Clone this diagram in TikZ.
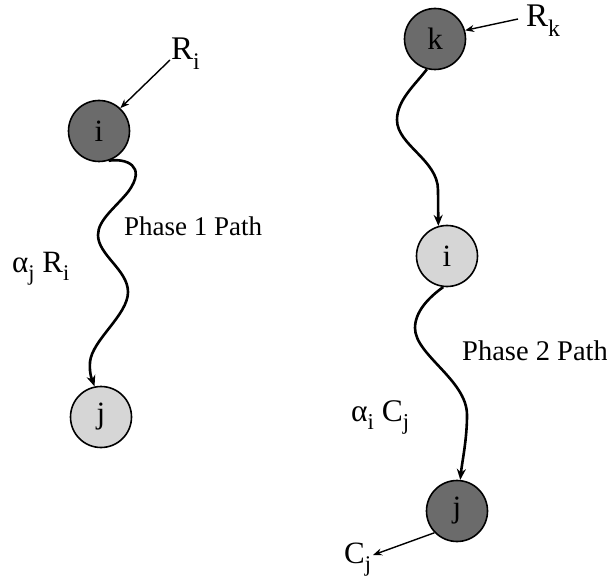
\documentclass[tikz,border=0pt]{standalone}
\usepackage{fontspec}
\setmainfont{Liberation Serif}
\usetikzlibrary{arrows.meta}
\definecolor{darknode}{gray}{0.42}
\definecolor{lightnode}{gray}{0.84}
\newcommand{\lowsub}[1]{\raisebox{-0.28em}{\fontsize{0.72em}{0.75em}\selectfont #1}}
\tikzset{
  darkcirc/.style={circle, draw=black, line width=1.6pt, fill=darknode, minimum size=61pt, inner sep=0pt, font=\fontsize{31}{33}\selectfont},
  lightcirc/.style={circle, draw=black, line width=1.6pt, fill=lightnode, minimum size=61pt, inner sep=0pt, font=\fontsize{31}{33}\selectfont},
  wavy/.style={line width=2.6pt, -{Stealth[length=11pt,width=9pt]}},
  feed/.style={line width=1.4pt, -{Stealth[length=9pt,width=7pt]}},
  lab/.style={anchor=base west, inner sep=0pt},
}
\begin{document}
\begin{tikzpicture}[x=1pt,y=-1pt]
\useasboundingbox (0,0) rectangle (607,577);
% nodes
\node[darkcirc]  (li) at (99,131) {i};
\node[lightcirc] (lj) at (101,417) {j};
\node[darkcirc]  (rk) at (435,39) {k};
\node[lightcirc] (ri) at (447,256) {i};
\node[darkcirc]  (rj) at (457,511) {j};
% labels
\node[lab, font=\fontsize{33}{36}\selectfont] (Ri) at (171,60) {R\lowsub{i}};
\node[lab, font=\fontsize{33}{36}\selectfont] (Rk) at (526,27) {R\lowsub{k}};
\node[lab, font=\fontsize{27}{30}\selectfont] (p1) at (124,236) {Phase 1 Path};
\node[lab, font=\fontsize{31}{34}\selectfont] (aR) at (12,272) {α\lowsub{j} R\lowsub{i}};
\node[lab, font=\fontsize{28.5}{31}\selectfont] (p2) at (462,360) {Phase 2 Path};
\node[lab, font=\fontsize{31.5}{34}\selectfont] (aC) at (351,421) {α\lowsub{i} C\lowsub{j}};
\node[lab, font=\fontsize{31}{34}\selectfont] (Cj) at (344,563) {C\lowsub{j}};
% free ends
\coordinate (riS) at (170,60);
\coordinate (rkS) at (518,19);
\coordinate (cjE) at (373,555);
% feed arrows
\draw[feed] (riS) -- (li.47);
\draw[feed] (rkS) -- (rk.16);
\draw[feed] (rj.224) -- (cjE);
% phase 1 path
\draw[wavy] (li.-72) .. controls (125,158) and (148,165) .. (128,192)
  .. controls (115,208) and (98,220) .. (98,235)
  .. controls (98,255) and (128,270) .. (128,292)
  .. controls (128,315) and (92,340) .. (90,362)
  .. controls (89,375) and (93,382) .. (lj.102);
% phase 2 paths
\draw[wavy] (rk.-105) .. controls (415,85) and (397,100) .. (397,120)
  .. controls (397,145) and (438,160) .. (438,190)
  .. controls (438,205) .. (ri.106);
\draw[wavy] (ri.-97) .. controls (428,298) and (415,312) .. (415,328)
  .. controls (415,355) and (467,380) .. (467,415)
  .. controls (467,440) and (462,462) .. (rj.84);
\end{tikzpicture}
\end{document}
